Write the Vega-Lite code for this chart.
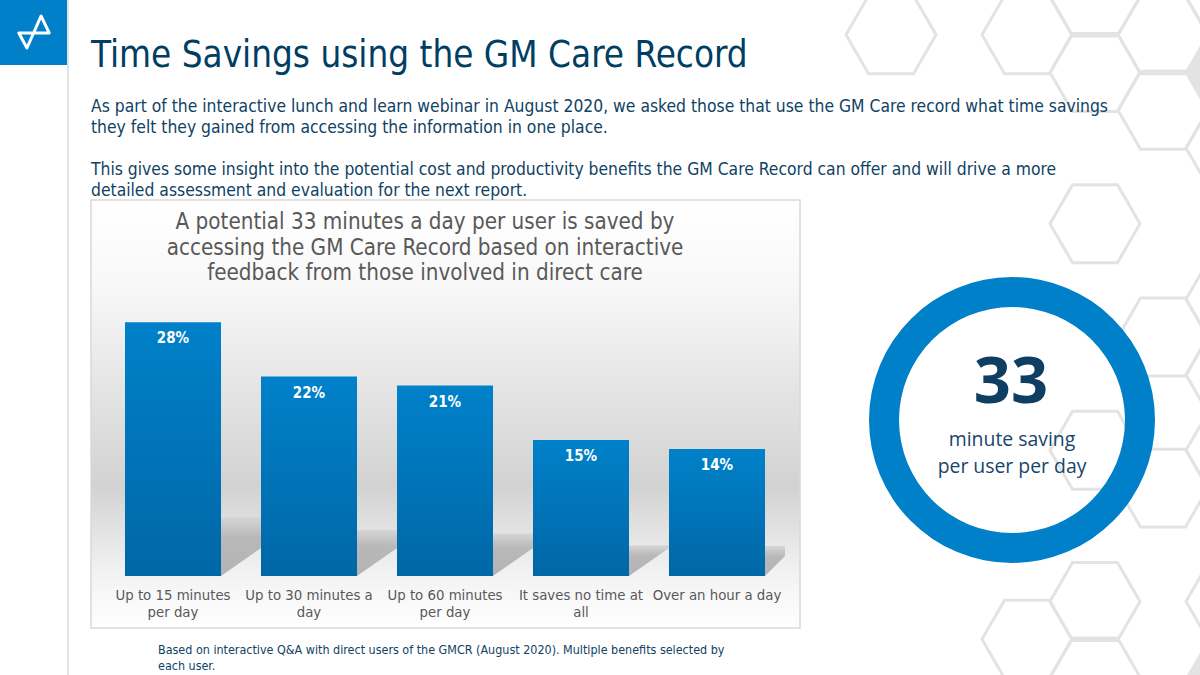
{
  "$schema": "https://vega.github.io/schema/vega-lite/v6.json",
  "width": 1200,
  "height": 675,
  "autosize": "none",
  "padding": 0,
  "background": "#ffffff",
  "view": {"stroke": null},
  "config": {"axis": {"grid": false}},
  "datasets": {
    "answers": [
      {"answer": "Up to 15 minutes per day", "share": 0.28},
      {"answer": "Up to 30 minutes a day", "share": 0.22},
      {"answer": "Up to 60 minutes per day", "share": 0.21},
      {"answer": "It saves no time at all", "share": 0.15},
      {"answer": "Over an hour a day", "share": 0.14}
    ],
    "shadows": [
      {"bar": "a", "slot": 0.853, "top": 0.065, "bottom": 0},
      {"bar": "a", "slot": 1.147, "top": 0.065, "bottom": 0.031},
      {"bar": "b", "slot": 1.853, "top": 0.051, "bottom": 0},
      {"bar": "b", "slot": 2.147, "top": 0.051, "bottom": 0.031},
      {"bar": "c", "slot": 2.853, "top": 0.047, "bottom": 0},
      {"bar": "c", "slot": 3.147, "top": 0.047, "bottom": 0.031},
      {"bar": "d", "slot": 3.853, "top": 0.034, "bottom": 0},
      {"bar": "d", "slot": 4.147, "top": 0.034, "bottom": 0.031},
      {"bar": "e", "slot": 4.853, "top": 0.033, "bottom": 0},
      {"bar": "e", "slot": 5, "top": 0.033, "bottom": 0.022}
    ]
  },
  "resolve": {"scale": {"x": "independent", "y": "independent", "theta": "independent"}, "axis": {"x": "independent", "y": "independent"}},
  "layer": [
    {
      "data": {"values": [
        {"col": 0, "row": 1}, {"col": 2, "row": 1}, {"col": 3, "row": 0}, {"col": 3, "row": 2},
        {"col": 3, "row": 6}, {"col": 3, "row": 12}, {"col": 3, "row": 16}, {"col": 3, "row": 18},
        {"col": 4, "row": 1}, {"col": 4, "row": 3}, {"col": 4, "row": 9}, {"col": 4, "row": 13},
        {"col": 2, "row": 17}, {"col": 5, "row": 0}, {"col": 5, "row": 4}, {"col": 5, "row": 8},
        {"col": 5, "row": 10}, {"col": 5, "row": 12}, {"col": 5, "row": 16}
      ]},
      "mark": {"type": "point", "shape": "M-1,0L-0.5,-0.866L0.5,-0.866L1,0L0.5,0.866L-0.5,0.866Z", "size": 8100, "filled": false, "stroke": "#e3e3e3", "strokeWidth": 3, "opacity": 1},
      "encoding": {
        "x": {"field": "col", "type": "quantitative", "axis": null, "scale": {"domain": [0, 5], "range": [891, 1231]}},
        "y": {"field": "row", "type": "quantitative", "axis": null, "scale": {"domain": [0, 18], "range": [-3, 677]}}
      }
    },
    {
      "data": {"values": [{"col": 5, "row": 2}, {"col": 5, "row": 18}]},
      "mark": {"type": "point", "shape": "M-1,0L-0.5,-0.866L0.5,-0.866L1,0L0.5,0.866L-0.5,0.866Z", "size": 8100, "filled": true, "fill": "#e3e3e3", "opacity": 1},
      "encoding": {
        "x": {"field": "col", "type": "quantitative", "axis": null, "scale": {"domain": [0, 5], "range": [891, 1231]}},
        "y": {"field": "row", "type": "quantitative", "axis": null, "scale": {"domain": [0, 18], "range": [-3, 677]}}
      }
    },
    {
      "data": {"values": [{"part": "margin"}]},
      "mark": {"type": "rule", "color": "#d9d9d9", "strokeWidth": 1.5},
      "encoding": {
        "x": {"field": "part", "type": "nominal", "axis": null, "scale": {"type": "point", "range": [68, 68]}}
      }
    },
    {
      "data": {"values": [{"part": "logo"}]},
      "mark": {"type": "rect", "color": "#0080c8"},
      "encoding": {
        "x": {"field": "part", "type": "nominal", "axis": null, "scale": {"type": "band", "range": [0, 67], "padding": 0}},
        "y": {"field": "part", "type": "nominal", "axis": null, "scale": {"type": "band", "range": [0, 65], "padding": 0}}
      }
    },
    {
      "data": {"values": [{"part": "logo"}]},
      "mark": {"type": "point", "shape": "M-0.95,0.06L0.95,0.06L0.44,-1L-0.44,1Z", "size": 1024, "filled": false, "stroke": "#ffffff", "strokeWidth": 3, "opacity": 1, "strokeJoin": "round"},
      "encoding": {
        "x": {"field": "part", "type": "nominal", "axis": null, "scale": {"type": "point", "range": [34, 34]}},
        "y": {"field": "part", "type": "nominal", "axis": null, "scale": {"type": "point", "range": [32, 32]}}
      }
    },
    {
      "data": {"values": [{"part": "panel"}]},
      "mark": {
        "type": "rect",
        "stroke": "#d9d9d9",
        "strokeWidth": 1.5,
        "fill": {
          "gradient": "linear", "x1": 0, "y1": 0, "x2": 0, "y2": 1,
          "stops": [
            {"offset": 0, "color": "#ffffff"},
            {"offset": 0.2, "color": "#f8f8f8"},
            {"offset": 0.67, "color": "#d2d2d2"},
            {"offset": 0.87, "color": "#f2f2f2"},
            {"offset": 1, "color": "#ffffff"}
          ]
        }
      },
      "encoding": {
        "x": {"field": "part", "type": "nominal", "axis": null, "scale": {"type": "band", "range": [91, 800], "padding": 0}},
        "y": {"field": "part", "type": "nominal", "axis": null, "scale": {"type": "band", "range": [200, 628], "padding": 0}}
      }
    },
    {
      "data": {"name": "shadows"},
      "mark": {
        "type": "area",
        "fill": {
          "gradient": "linear", "x1": 0, "y1": 0, "x2": 0, "y2": 1,
          "stops": [
            {"offset": 0, "color": "#d6d6d6"},
            {"offset": 0.35, "color": "#b8b8b8"},
            {"offset": 1, "color": "#b4b4b4"}
          ]
        }
      },
      "encoding": {
        "x": {"field": "slot", "type": "quantitative", "axis": null, "scale": {"domain": [0, 5], "range": [105, 785]}},
        "y": {"field": "top", "type": "quantitative", "axis": null, "scale": {"domain": [0, 0.3], "range": [576, 304]}},
        "y2": {"field": "bottom"},
        "detail": {"field": "bar", "type": "nominal"}
      }
    },
    {
      "data": {"name": "answers"},
      "mark": {
        "type": "bar",
        "fill": {
          "gradient": "linear", "x1": 0, "y1": 0, "x2": 0, "y2": 1,
          "stops": [
            {"offset": 0, "color": "#0081ca"},
            {"offset": 1, "color": "#0067a6"}
          ]
        }
      },
      "encoding": {
        "x": {
          "field": "answer", "type": "nominal", "sort": null, "title": null,
          "scale": {"type": "band", "range": [105, 785], "paddingInner": 0.294, "paddingOuter": 0.147},
          "axis": {
            "orient": "bottom", "offset": -99, "zindex": 1, "domain": false, "ticks": false, "labelAngle": 0,
            "labelPadding": 11, "labelFont": "DejaVu Sans Condensed", "labelFontSize": 14.8, "labelColor": "#595959",
            "labelLineHeight": 17, "labelBaseline": "top",
            "labelExpr": "{'Up to 15 minutes per day': ['Up to 15 minutes', 'per day'], 'Up to 30 minutes a day': ['Up to 30 minutes a', 'day'], 'Up to 60 minutes per day': ['Up to 60 minutes', 'per day'], 'It saves no time at all': ['It saves no time at', 'all'], 'Over an hour a day': ['Over an hour a day']}[datum.label]"
          }
        },
        "y": {"field": "share", "type": "quantitative", "axis": null, "scale": {"domain": [0, 0.3], "range": [576, 304]}}
      }
    },
    {
      "data": {"name": "answers"},
      "mark": {"type": "text", "dy": 16, "font": "DejaVu Sans Condensed", "fontSize": 15, "fontWeight": "bold", "color": "#ffffff"},
      "encoding": {
        "x": {"field": "answer", "type": "nominal", "sort": null, "axis": null, "scale": {"type": "band", "range": [105, 785], "paddingInner": 0.294, "paddingOuter": 0.147}},
        "y": {"field": "share", "type": "quantitative", "axis": null, "scale": {"domain": [0, 0.3], "range": [576, 304]}},
        "text": {"field": "share", "type": "quantitative", "format": ".0%"}
      }
    },
    {
      "data": {"values": [{"ring": "saving", "full": 100}]},
      "mark": {"type": "arc", "innerRadius": 113, "outerRadius": 143, "color": "#0080c8"},
      "encoding": {
        "theta": {"field": "full", "type": "quantitative", "scale": {"domain": [0, 100]}},
        "x": {"field": "ring", "type": "nominal", "axis": null, "scale": {"type": "point", "range": [1012, 1012]}},
        "y": {"field": "ring", "type": "nominal", "axis": null, "scale": {"type": "point", "range": [420, 420]}}
      }
    },
    {
      "data": {"values": [{"line": "Time Savings using the GM Care Record"}]},
      "mark": {"type": "text", "align": "left", "font": "DejaVu Sans Condensed", "fontSize": 36.5, "color": "#003e63"},
      "encoding": {
        "x": {"datum": "a", "type": "nominal", "axis": null, "scale": {"type": "point", "range": [91, 91]}},
        "y": {"datum": "a", "type": "nominal", "axis": null, "scale": {"type": "point", "range": [56, 56]}},
        "text": {"field": "line", "type": "nominal"}
      }
    },
    {
      "data": {"values": [
        {"line": "As part of the interactive lunch and learn webinar in August 2020, we asked those that use the GM Care record what time savings"},
        {"line": "they felt they gained from accessing the information in one place."}
      ]},
      "mark": {"type": "text", "align": "left", "font": "DejaVu Sans Condensed", "fontSize": 17.35, "color": "#0f4263"},
      "encoding": {
        "x": {"datum": "a", "type": "nominal", "axis": null, "scale": {"type": "point", "range": [91, 91]}},
        "y": {"field": "line", "type": "nominal", "sort": null, "axis": null, "scale": {"type": "point", "range": [107, 128], "padding": 0}},
        "text": {"field": "line", "type": "nominal"}
      }
    },
    {
      "data": {"values": [
        {"line": "This gives some insight into the potential cost and productivity benefits the GM Care Record can offer and will drive a more"},
        {"line": "detailed assessment and evaluation for the next report."}
      ]},
      "mark": {"type": "text", "align": "left", "font": "DejaVu Sans Condensed", "fontSize": 17.35, "color": "#0f4263"},
      "encoding": {
        "x": {"datum": "a", "type": "nominal", "axis": null, "scale": {"type": "point", "range": [91, 91]}},
        "y": {"field": "line", "type": "nominal", "sort": null, "axis": null, "scale": {"type": "point", "range": [170, 191], "padding": 0}},
        "text": {"field": "line", "type": "nominal"}
      }
    },
    {
      "data": {"values": [
        {"line": "A potential 33 minutes a day per user is saved by"},
        {"line": "accessing the GM Care Record based on interactive"},
        {"line": "feedback from those involved in direct care"}
      ]},
      "mark": {"type": "text", "align": "center", "font": "DejaVu Sans Condensed", "fontSize": 22.25, "color": "#595959"},
      "encoding": {
        "x": {"datum": "a", "type": "nominal", "axis": null, "scale": {"type": "point", "range": [425, 425]}},
        "y": {"field": "line", "type": "nominal", "sort": null, "axis": null, "scale": {"type": "point", "range": [222, 273], "padding": 0}},
        "text": {"field": "line", "type": "nominal"}
      }
    },
    {
      "data": {"values": [{"line": "33"}]},
      "mark": {"type": "text", "align": "center", "font": "Open Sans", "fontWeight": "bold", "fontSize": 65, "color": "#0e3f63"},
      "encoding": {
        "x": {"datum": "a", "type": "nominal", "axis": null, "scale": {"type": "point", "range": [1011, 1011]}},
        "y": {"datum": "a", "type": "nominal", "axis": null, "scale": {"type": "point", "range": [383, 383]}},
        "text": {"field": "line", "type": "nominal"}
      }
    },
    {
      "data": {"values": [{"line": "minute saving"}, {"line": "per user per day"}]},
      "mark": {"type": "text", "align": "center", "font": "Open Sans", "fontSize": 19.4, "color": "#17456b"},
      "encoding": {
        "x": {"datum": "a", "type": "nominal", "axis": null, "scale": {"type": "point", "range": [1012, 1012]}},
        "y": {"field": "line", "type": "nominal", "sort": null, "axis": null, "scale": {"type": "point", "range": [440, 467], "padding": 0}},
        "text": {"field": "line", "type": "nominal"}
      }
    },
    {
      "data": {"values": [
        {"line": "Based on interactive Q&A with direct users of the GMCR (August 2020). Multiple benefits selected by"},
        {"line": "each user."}
      ]},
      "mark": {"type": "text", "align": "left", "font": "DejaVu Sans Condensed", "fontSize": 12.45, "color": "#0f4263"},
      "encoding": {
        "x": {"datum": "a", "type": "nominal", "axis": null, "scale": {"type": "point", "range": [158, 158]}},
        "y": {"field": "line", "type": "nominal", "sort": null, "axis": null, "scale": {"type": "point", "range": [650, 666], "padding": 0}},
        "text": {"field": "line", "type": "nominal"}
      }
    }
  ]
}
